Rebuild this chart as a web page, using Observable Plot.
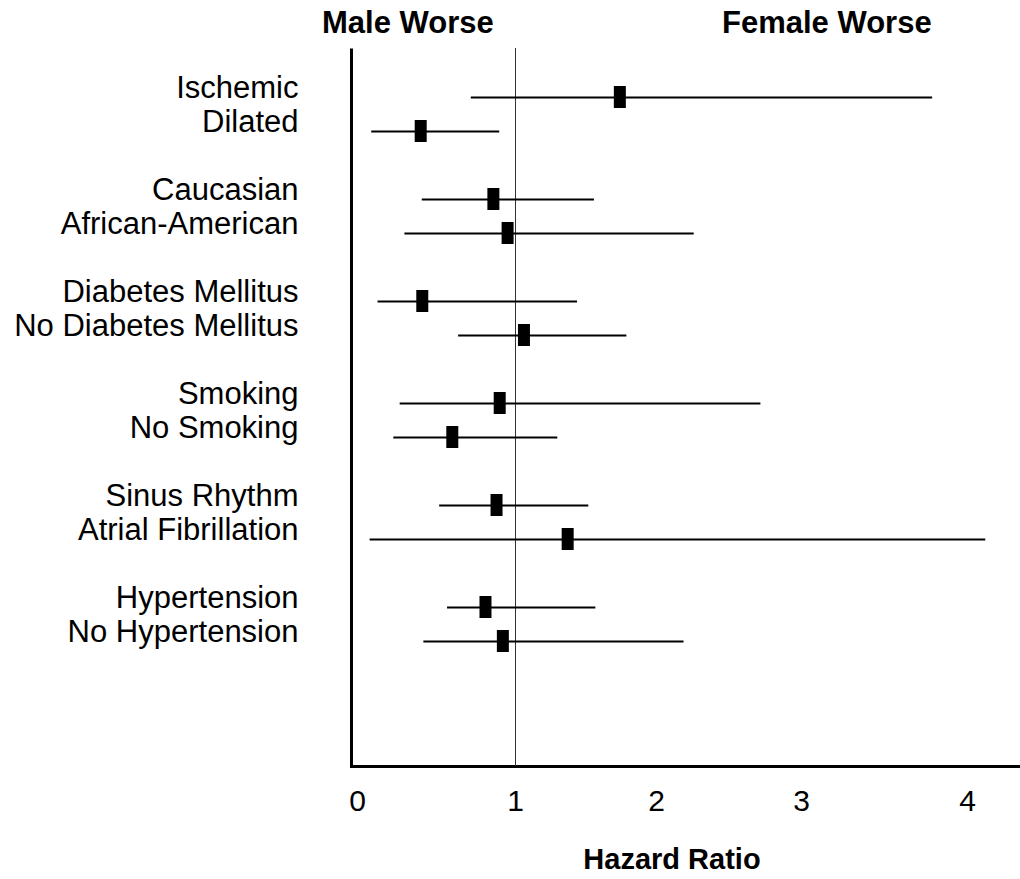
<!DOCTYPE html>
<html>
<head>
<meta charset="utf-8">
<script src="https://cdn.jsdelivr.net/npm/d3@7"></script>
<script src="https://cdn.jsdelivr.net/npm/@observablehq/plot@0.6"></script>
<style>
  body { margin: 0; background: #fff; }
  #fig { width: 1020px; background: #fff; font-family: "Liberation Sans", Arial, Helvetica, sans-serif; color: #000; }
  .hdr { position: relative; height: 48px; }
  .hdr span { position: absolute; top: 0; line-height: 45px; font-size: 31px; font-weight: bold; white-space: nowrap; }
  .cap { margin-left: 324px; width: 696px; height: 39px; line-height: 39px; text-align: center; font-size: 29px; font-weight: bold; }
</style>
</head>
<body>
<div id="fig">
  <div class="hdr">
    <span style="left:322px">Male Worse</span>
    <span style="left:722px">Female Worse</span>
  </div>
  <div id="chart"></div>
  <div class="cap">Hazard Ratio</div>
</div>
<script>
// Subgroups, listed in pairs (one pair per clinical characteristic)
const groups = [
  ["Ischemic", "Dilated"],
  ["Caucasian", "African-American"],
  ["Diabetes Mellitus", "No Diabetes Mellitus"],
  ["Smoking", "No Smoking"],
  ["Sinus Rhythm", "Atrial Fibrillation"],
  ["Hypertension", "No Hypertension"]
];

// Hazard ratio (female vs male) with 95% confidence limits, in subgroup order
const hazard = [1.74, 0.40, 0.86, 0.95, 0.41, 1.06, 0.90, 0.60, 0.88, 1.37, 0.81, 0.92];
const lower  = [0.72, 0.09, 0.41, 0.30, 0.13, 0.64, 0.27, 0.23, 0.52, 0.08, 0.57, 0.42];
const upper  = [3.79, 0.90, 1.56, 2.26, 1.44, 1.79, 2.72, 1.30, 1.52, 4.11, 1.57, 2.19];

// Axis ticks of the hazard-ratio scale
const xTicks = [0, 1, 2, 3, 4];

const labels = groups.flat();
const rows = labels.map((label, i) => ({label, hr: hazard[i], lo: lower[i], hi: upper[i]}));

// Row order with a blank slot between pairs
const yDomain = groups.flatMap((g, i) => i < groups.length - 1 ? [...g, "gap" + i] : g);

const width = 1020, height = 792;
const marginLeft = 351, marginRight = 0, marginTop = 0, marginBottom = 74;
const fw = width - marginLeft - marginRight, fh = height - marginTop - marginBottom;

const chart = Plot.plot({
  width, height, marginLeft, marginRight, marginTop, marginBottom,
  style: {fontFamily: '"Liberation Sans", Arial, Helvetica, sans-serif', color: "#000", background: "#fff", overflow: "visible"},
  x: {type: "linear", domain: xTicks, range: [357, 515, 656, 801, 967]},
  y: {type: "point", domain: yDomain, range: [45, 596], padding: 0},
  marks: [
    // left and bottom axis lines
    Plot.frame({stroke: "#000", strokeWidth: 3, strokeDasharray: `0 ${fw + fh} ${fw + fh}`}),
    // line of no difference
    Plot.ruleX([1], {stroke: "#333", strokeWidth: 1}),
    // confidence intervals
    Plot.ruleY(rows, {y: "label", x1: "lo", x2: "hi", stroke: "#000", strokeWidth: 2}),
    // point estimates
    Plot.ruleX(rows, {x: "hr", y1: "label", y2: "label", stroke: "#000", strokeWidth: 12, insetTop: -11, insetBottom: -11}),
    Plot.axisX({ticks: xTicks, tickSize: 0, tickPadding: 23, fontSize: 30, tickFormat: d3.format("d"), label: null}),
    Plot.axisY({ticks: labels, tickSize: 0, tickPadding: 53, fontSize: 31, dy: -9, label: null})
  ]
});
document.getElementById("chart").appendChild(chart);
</script>
</body>
</html>
